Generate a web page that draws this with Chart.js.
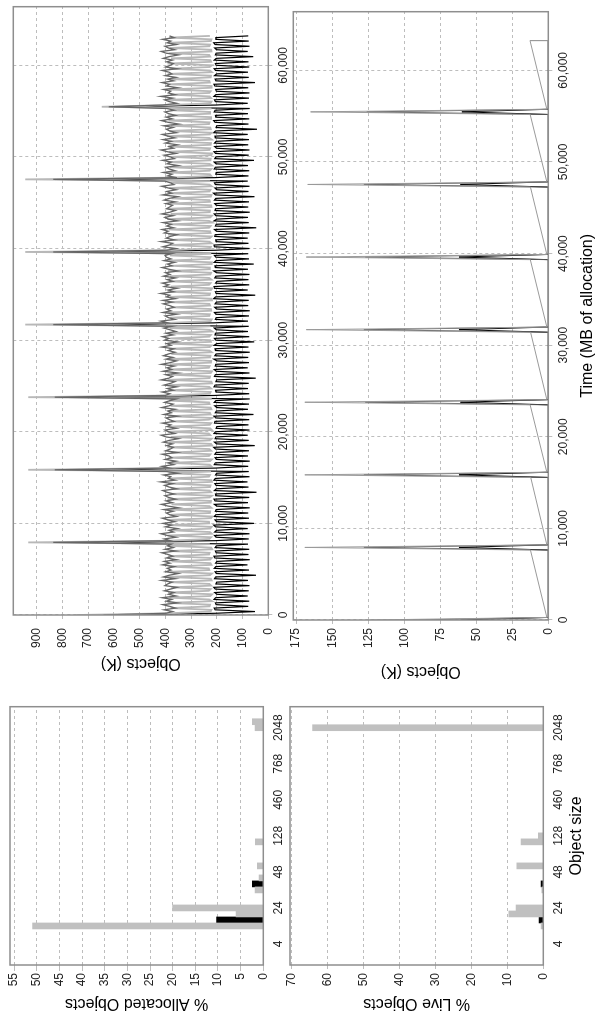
<!DOCTYPE html>
<html lang="en">
<head>
<meta charset="UTF-8">
<title>Object size histograms and object counts over time</title>
<script src="https://cdn.jsdelivr.net/npm/chart.js"></script>
<style>
  html, body { margin: 0; padding: 0; background: #fff; overflow: hidden; }
  /* the figure is drawn landscape (1026 x 597) and turned a quarter turn to the left */
  #page { position: absolute; left: 0; top: 0; width: 1026px; height: 597px;
          transform-origin: 0 0; transform: translate(0, 1026px) rotate(-90deg); }
  #page canvas { position: absolute; }
</style>
</head>
<body>
<div id="page">
  <canvas id="allocHist" width="330" height="290" style="left:0;top:0"></canvas>
  <canvas id="liveHist" width="330" height="319" style="left:0;top:278px"></canvas>
  <canvas id="allocTime" width="673" height="294" style="left:353px;top:-4px"></canvas>
  <canvas id="liveTime" width="681" height="315" style="left:345px;top:282px"></canvas>
</div>

<script>
// ---- object size histograms (43 size-class bins, only some of them labelled)
const BIN_COUNT = 43;
const sizeTickBins = [3, 9, 15, 21, 27, 33, 39];
const sizeTickLabels = ['4', '24', '48', '128', '460', '768', '2048'];

const allocGreyBins = [6, 8, 9, 12, 14, 16, 20, 39, 40];
const allocGreyPct = [50.9, 6.0, 20.0, 1.8, 0.95, 1.3, 1.75, 1.8, 2.4];
const allocBlackBins = [7, 13];
const allocBlackPct = [10.3, 2.4];

const liveGreyBins = [6, 8, 9, 12, 16, 20, 21, 39];
const liveGreyPct = [0.6, 9.6, 7.6, 0.4, 7.4, 6.2, 1.4, 64.2];
const liveBlackBins = [7, 13];
const liveBlackPct = [1.2, 0.6];

const allocPctTicks = [0, 5, 10, 15, 20, 25, 30, 35, 40, 45, 50, 55];
const livePctTicks = [0, 10, 20, 30, 40, 50, 60, 70];

// ---- allocated objects (K), one sample every SAMPLE_MB of allocation
const SAMPLE_MB = 188.7;
const TIME_MAX = 66400;
const timeTicks = [0, 10000, 20000, 30000, 40000, 50000, 60000];
const allocCountTicks = [0, 100, 200, 300, 400, 500, 600, 700, 800, 900];
const liveCountTicks = [0, 25, 50, 75, 100, 125, 150, 175];

const allocBlack = [
  560, 204, 52, 207, 210, 78, 203, 206, 74, 211, 205, 80, 200, 208, 76, 206, 212, 73, 204, 201, 79, 209, 205, 48, 202, 207, 75, 210, 204, 81, 205, 200, 72, 208, 211, 77, 203, 206, 74, 207, 202, 79,
  690, 206, 76, 203, 209, 73, 208, 201, 80, 205, 212, 56, 201, 207, 75, 210, 204, 78, 206, 203, 72, 200, 209, 79, 207, 211, 74, 204, 205, 46, 209, 202, 77, 203, 208, 81, 211, 206, 73, 205, 201, 76,
  680, 204, 78, 210, 206, 72, 202, 207, 79, 208, 203, 75, 205, 212, 53, 201, 209, 76, 207, 204, 80, 211, 205, 73, 203, 200, 77, 209, 207, 74, 204, 211, 58, 206, 202, 79, 200, 208, 75, 210, 204, 72,
  692, 208, 74, 203, 205, 79, 211, 207, 76, 204, 201, 49, 209, 206, 73, 202, 210, 80, 206, 204, 75, 200, 212, 78, 208, 203, 72, 205, 207, 77, 211, 201, 55, 204, 209, 74, 207, 205, 79, 202, 210, 76,
  685, 210, 79, 206, 203, 75, 204, 209, 72, 201, 208, 78, 207, 202, 76, 212, 205, 51, 203, 206, 80, 209, 211, 74, 205, 200, 77, 208, 204, 73, 202, 212, 79, 206, 207, 57, 210, 203, 75, 204, 209, 78,
  690, 205, 73, 209, 211, 77, 203, 204, 80, 208, 206, 74, 201, 209, 47, 206, 203, 76, 211, 201, 79, 204, 210, 72, 207, 205, 78, 202, 208, 75, 209, 204, 54, 205, 213, 77, 200, 207, 73, 206, 209, 80,
  688, 207, 77, 204, 202, 74, 210, 206, 79, 203, 210, 56, 208, 204, 76, 205, 211, 73, 201, 208, 78, 209, 203, 75, 206, 207, 80, 212, 205, 44, 203, 201, 77, 207, 212, 74, 204, 205, 79, 210, 207, 72,
  600, 203, 80, 206, 209, 75, 211, 204, 73, 202, 205, 78, 208, 211, 52, 204, 207, 76, 209, 201, 79, 205, 210, 74, 203, 206, 77, 210, 202, 59, 206, 203, 80, 201, 208, 73, 207, 212, 76, 204, 204, 78
];
const allocLight = [
  745, 388, 224, 221, 379, 228, 226, 392, 219, 230, 384, 225, 218, 390, 231, 224, 377, 222, 229, 386, 220, 223, 394, 227, 219, 381, 229, 231, 388, 221, 225, 376, 226, 220, 391, 230, 228, 383, 218, 222, 389, 227,
  933, 384, 229, 222, 391, 219, 227, 378, 225, 220, 387, 230, 231, 393, 223, 218, 380, 227, 226, 389, 221, 229, 376, 224, 223, 392, 228, 219, 385, 222, 228, 379, 226, 224, 390, 219, 221, 382, 231, 227, 388, 223,
  933, 390, 221, 228, 382, 226, 219, 388, 230, 225, 377, 222, 229, 393, 218, 223, 385, 228, 220, 379, 225, 231, 391, 219, 226, 384, 227, 222, 376, 230, 218, 389, 224, 227, 392, 221, 224, 380, 228, 230, 386, 220,
  933, 379, 227, 224, 390, 222, 230, 385, 219, 221, 392, 228, 226, 378, 224, 219, 388, 231, 228, 383, 223, 222, 394, 226, 225, 377, 220, 229, 386, 227, 220, 391, 223, 226, 381, 229, 223, 389, 218, 228, 384, 225,
  945, 386, 224, 220, 381, 229, 227, 393, 222, 223, 376, 226, 229, 389, 219, 221, 384, 228, 226, 392, 223, 218, 379, 230, 224, 387, 221, 230, 382, 225, 222, 390, 227, 227, 377, 220, 219, 388, 229, 225, 383, 222,
  945, 392, 226, 223, 384, 220, 229, 378, 227, 220, 390, 224, 226, 386, 230, 224, 381, 218, 230, 393, 225, 219, 379, 228, 227, 388, 221, 222, 383, 226, 228, 376, 223, 221, 391, 229, 225, 385, 220, 229, 380, 226,
  945, 380, 222, 227, 389, 228, 221, 383, 219, 229, 392, 225, 224, 377, 221, 218, 386, 229, 226, 390, 224, 223, 381, 220, 230, 394, 227, 220, 384, 223, 225, 378, 230, 228, 388, 222, 222, 391, 226, 226, 379, 221,
  647, 387, 225, 221, 393, 222, 228, 380, 229, 224, 389, 220, 220, 384, 227, 229, 377, 224, 223, 391, 219, 227, 385, 228, 219, 392, 222, 225, 378, 226, 230, 387, 221, 222, 383, 229, 226, 390, 223, 221, 386, 227
];
const allocDark = [
  640, 398, 372, 405, 361, 384, 410, 352, 396, 376, 412, 358, 388, 367, 404, 380, 355, 402, 391, 374, 414, 362, 408, 385, 350, 399, 378, 393, 365, 411, 382, 404, 357, 396, 371, 389, 414, 360, 401, 369, 392, 377,
  836, 381, 404, 359, 392, 417, 369, 386, 353, 400, 377, 409, 363, 390, 412, 357, 383, 396, 370, 406, 348, 389, 415, 373, 397, 360, 387, 402, 366, 394, 410, 356, 385, 403, 371, 418, 362, 389, 379, 407, 351, 396,
  830, 384, 413, 368, 391, 358, 401, 375, 386, 412, 354, 399, 381, 369, 395, 372, 408, 385, 349, 397, 416, 364, 388, 402, 357, 393, 379, 411, 366, 384, 398, 353, 406, 377, 390, 361, 414, 386, 370, 403, 382, 358,
  830, 401, 383, 412, 369, 392, 355, 405, 380, 363, 416, 387, 372, 399, 350, 409, 376, 394, 365, 415, 381, 357, 398, 371, 407, 388, 362, 389, 367, 414, 378, 395, 352, 403, 386, 411, 370, 398, 359, 382, 406, 374,
  836, 391, 417, 363, 388, 401, 356, 410, 379, 395, 366, 384, 408, 374, 409, 361, 396, 383, 418, 368, 390, 354, 404, 387, 412, 371, 393, 360, 407, 382, 399, 351, 386, 413, 375, 392, 364, 405, 378, 397, 401, 376,
  836, 393, 359, 410, 385, 372, 416, 364, 397, 381, 355, 404, 389, 413, 368, 395, 377, 409, 352, 388, 402, 370, 414, 383, 361, 396, 384, 372, 398, 361, 405, 384, 352, 410, 376, 395, 358, 388, 414, 367, 380, 402,
  836, 355, 391, 374, 408, 362, 385, 399, 350, 393, 378, 411, 365, 381, 404, 359, 392, 417, 369, 386, 353, 400, 377, 409, 363, 390, 412, 357, 383, 396, 370, 406, 348, 389, 415, 373, 397, 360, 387, 402, 366, 394,
  620, 410, 356, 385, 403, 371, 418, 362, 389, 379, 407, 351, 396, 384, 413, 368, 391, 358, 401, 375, 386, 412, 354, 399, 381, 369, 395, 372, 408, 385, 349, 397, 416, 364, 388, 402, 357, 393, 379, 411, 366, 384
];

// ---- live objects (K): sparse points, straight lines between them
const liveSawMB = [0, 283, 7641, 7924, 8207, 15565, 15848, 16131, 23489, 23772, 24055, 31413, 31696, 31979,
                   39337, 39620, 39903, 47261, 47544, 47827, 55185, 55468, 55751, 63250, 63250];
const liveSawK = [124, 1, 12.4, 169, 1, 12.2, 169, 1, 12.6, 169, 1, 12.3, 168, 1,
                  12.5, 168, 1, 12.4, 167, 1, 12.6, 165, 1, 12.7, 0];
const liveSpikeMB = [0, 283, 7641, 7924, 8207, 15565, 15848, 16131, 23489, 23772, 24055, 31413, 31696, 31979,
                     39337, 39620, 39903, 47261, 47544, 47827, 55185, 55468, 55751, 63250];
const liveDarkK = [94, 0, 0, 128, 0, 0, 128, 0, 0, 127, 0, 0, 128, 0, 0, 127, 0, 0, 128, 0, 0, 126, 0, 0];
const liveBlackK = [61, 0, 0, 62, 0, 0, 62, 0, 0, 61, 0, 0, 62, 0, 0, 62, 0, 0, 61, 0, 0, 60, 0, 0];

Chart.defaults.font.family = "'Liberation Sans', Arial, sans-serif";
Chart.defaults.font.size = 12;
Chart.defaults.color = '#222';

const GRID = '#bdbdbd';

// grey box round every plot area
const frameBox = {
  id: 'frameBox',
  afterDraw(chart) {
    const { ctx, chartArea: a } = chart;
    ctx.save();
    ctx.strokeStyle = '#8e8e8e';
    ctx.lineWidth = 1.5;
    ctx.strokeRect(a.left, a.top, a.right - a.left, a.bottom - a.top);
    ctx.restore();
  }
};

function fixedTicks(values) {
  return s => { s.ticks = values.map(v => ({ value: v })); };
}

function valueAxis(max, tickValues, width, title, tick, pad) {
  return {
    type: 'linear', min: 0, max: max,
    afterFit: s => { s.width = width; },
    afterBuildTicks: fixedTicks(tickValues),
    grid: { color: GRID, lineWidth: 1, tickLength: tick },
    border: { display: false, dash: [3, 3] },
    ticks: { padding: pad, color: '#222', autoSkip: false },
    title: { display: true, text: title, color: '#000', font: { size: 16 }, padding: 0 }
  };
}

function timeAxis(height, title) {
  return {
    type: 'linear', min: 0, max: TIME_MAX,
    afterFit: s => { s.height = height; },
    afterBuildTicks: fixedTicks(timeTicks),
    grid: { color: GRID, lineWidth: 1, tickLength: 4 },
    border: { display: false, dash: [3, 3] },
    ticks: { padding: 4, maxRotation: 0, autoSkip: false, color: '#222',
             callback: v => v.toLocaleString('en-US') },
    title: { display: !!title, text: title || '', color: '#000', font: { size: 16 }, padding: 0 }
  };
}

function sizeAxis(height, title, titlePad) {
  return {
    type: 'linear', min: -0.5, max: BIN_COUNT - 0.5, offset: false,
    afterFit: s => { s.height = height; },
    afterBuildTicks: fixedTicks(sizeTickBins),
    grid: { display: false, drawTicks: false },
    border: { display: false },
    ticks: { padding: 8, maxRotation: 0, autoSkip: false, color: '#222',
             callback: v => sizeTickLabels[sizeTickBins.indexOf(v)] },
    title: { display: !!title, text: title || '', color: '#000', font: { size: 16 },
             padding: { top: 0, bottom: titlePad || 0 } }
  };
}

function pairs(xs, ys) {
  return xs.map((x, i) => ({ x: x, y: ys[i] }));
}

function sampled(ys) {
  return ys.map((y, i) => ({ x: i * SAMPLE_MB, y: y }));
}

function bars(bins, pct, colour) {
  return { data: pairs(bins, pct), backgroundColor: colour, barThickness: 6, grouped: false };
}

function line(points, colour, width) {
  return { data: points, borderColor: colour, borderWidth: width, pointRadius: 0, tension: 0, fill: false };
}

const common = {
  responsive: false,
  animation: false,
  events: [],
  plugins: { legend: { display: false }, tooltip: { enabled: false } }
};

new Chart(document.getElementById('allocHist'), {
  type: 'bar',
  data: { datasets: [
    bars(allocGreyBins, allocGreyPct, '#c0c0c0'),
    bars(allocBlackBins, allocBlackPct, '#000')
  ] },
  options: Object.assign({}, common, {
    layout: { autoPadding: false, padding: { left: 12.9, top: 10, right: 10.7, bottom: 0 } },
    scales: {
      x: sizeAxis(26.7),
      y: valueAxis(55.9, allocPctTicks, 48.1, '% Allocated Objects', 6, 2)
    }
  }),
  plugins: [frameBox]
});

new Chart(document.getElementById('liveHist'), {
  type: 'bar',
  data: { datasets: [
    bars(liveGreyBins, liveGreyPct, '#c0c0c0'),
    bars(liveBlackBins, liveBlackPct, '#000')
  ] },
  options: Object.assign({}, common, {
    layout: { autoPadding: false, padding: { left: 13.4, top: 12, right: 10.7, bottom: 0 } },
    scales: {
      x: sizeAxis(53.7, 'Object size', 10.4),
      y: valueAxis(70.5, livePctTicks, 47.6, '% Live Objects', 4, 4)
    }
  }),
  plugins: [frameBox]
});

new Chart(document.getElementById('allocTime'), {
  type: 'line',
  data: { datasets: [
    line(sampled(allocDark), '#666', 1.3),
    line(sampled(allocLight), '#b8b8b8', 1.8),
    line(sampled(allocBlack), '#000', 1.2)
  ] },
  options: Object.assign({}, common, {
    layout: { autoPadding: false, padding: { left: 0, top: 17.3, right: 6.7, bottom: 0 } },
    scales: {
      x: timeAxis(21.7),
      y: valueAxis(991, allocCountTicks, 58, 'Objects (K)', 4, 9)
    }
  }),
  plugins: [frameBox]
});

new Chart(document.getElementById('liveTime'), {
  type: 'line',
  data: { datasets: [
    line(pairs(liveSawMB, liveSawK), '#9a9a9a', 1),
    line(pairs(liveSpikeMB, liveDarkK), '#555', 1),
    line(pairs(liveSpikeMB, liveBlackK), '#000', 1)
  ] },
  options: Object.assign({}, common, {
    layout: { autoPadding: false, padding: { left: 0, top: 11.3, right: 11.7, bottom: 0 } },
    scales: {
      x: timeAxis(48.7, 'Time (MB of allocation)'),
      y: valueAxis(177, liveCountTicks, 61, 'Objects (K)', 4, 4)
    }
  }),
  plugins: [frameBox]
});
</script>
</body>
</html>
